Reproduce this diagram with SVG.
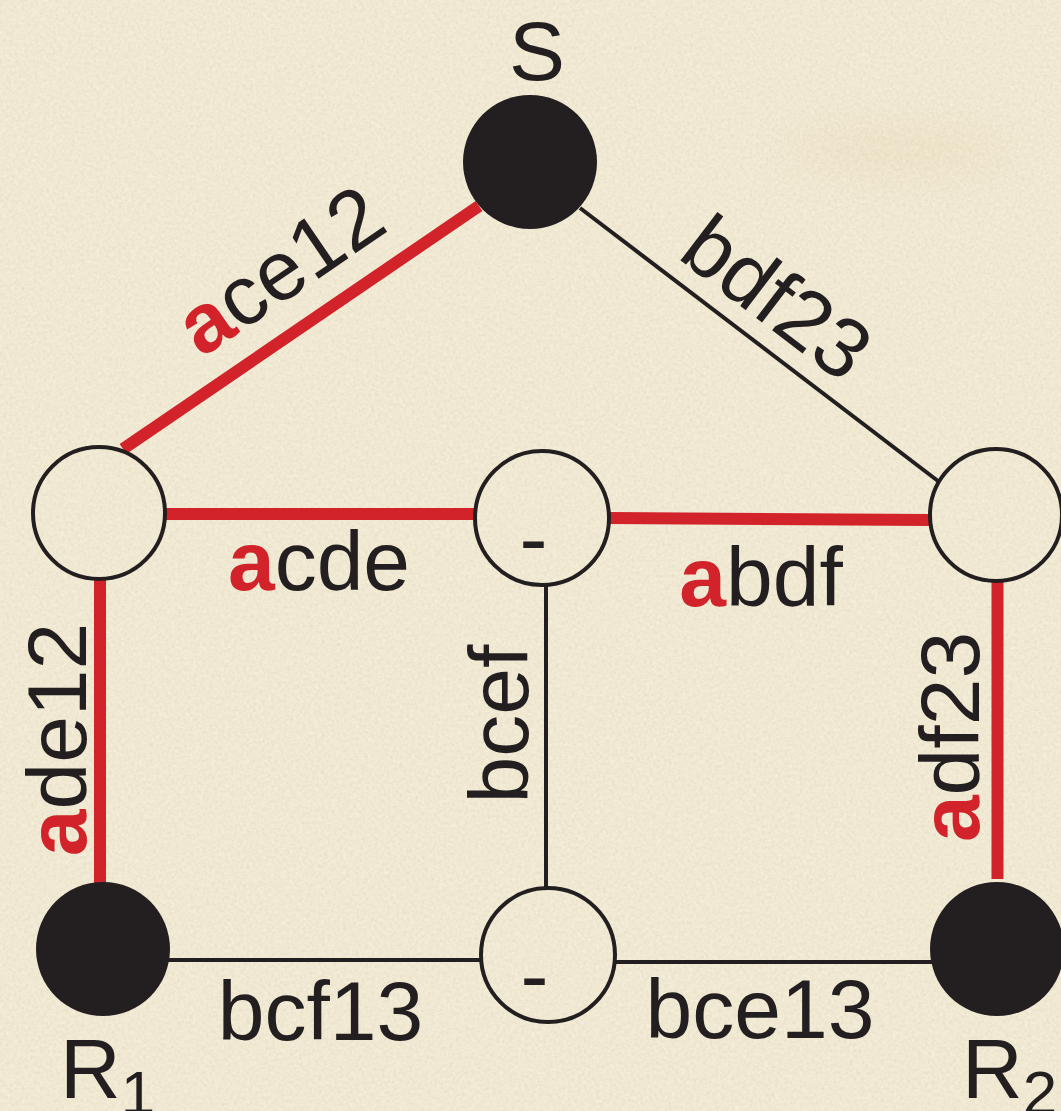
<svg xmlns="http://www.w3.org/2000/svg" width="1061" height="1111" viewBox="0 0 1061 1111">
  <defs>
    <filter id="paper" x="0" y="0" width="100%" height="100%">
      <feTurbulence type="fractalNoise" baseFrequency="0.32" numOctaves="3" seed="7" result="n"/>
      <feColorMatrix in="n" type="matrix" values="0 0 0 0 0.55  0 0 0 0 0.5  0 0 0 0 0.38  1.3 0 0 0 -0.55"/>
    </filter>
    <filter id="paperLight" x="0" y="0" width="100%" height="100%">
      <feTurbulence type="fractalNoise" baseFrequency="0.28" numOctaves="2" seed="19" result="n"/>
      <feColorMatrix in="n" type="matrix" values="0 0 0 0 1  0 0 0 0 0.99  0 0 0 0 0.94  1.3 0 0 0 -0.55"/>
    </filter>
    <filter id="blur" x="-100%" y="-200%" width="300%" height="500%"><feGaussianBlur stdDeviation="25"/></filter>
    <style>
      .lbl { font-family: "Liberation Sans", Arial, Helvetica, sans-serif; font-size: 84px; fill: #231f20; }
      .hi { font-weight: bold; fill: #d2232a; }
      .red { stroke: #d2232a; stroke-width: 12; fill: none; }
      .blk { stroke: #231f20; stroke-width: 4; fill: none; }
      .open { fill: none; stroke: #231f20; stroke-width: 4; }
      .filled { fill: #231f20; }
    </style>
  </defs>

  <!-- background paper -->
  <rect x="0" y="0" width="1061" height="1111" fill="#f1e9d2"/>
  <ellipse cx="900" cy="150" rx="120" ry="14" fill="#d9c090" opacity="0.3" filter="url(#blur)"/>
  <rect x="0" y="0" width="1061" height="1111" filter="url(#paperLight)" opacity="0.5"/>
  <rect x="0" y="0" width="1061" height="1111" filter="url(#paper)" opacity="0.35"/>

  <!-- connectors -->
  <g id="connectors">
    <line class="red" x1="123" y1="449" x2="479" y2="206"/>
    <line class="blk" x1="580" y1="208" x2="938" y2="481"/>
    <line class="red" x1="166" y1="514" x2="476" y2="514"/>
    <line class="red" x1="609" y1="518" x2="930" y2="520"/>
    <line class="red" x1="100" y1="580" x2="100" y2="885"/>
    <line class="blk" x1="546" y1="586" x2="546" y2="887"/>
    <line class="red" x1="997.5" y1="582" x2="997.5" y2="879"/>
    <line class="blk" x1="168" y1="960" x2="481" y2="960"/>
    <line class="blk" x1="616" y1="962" x2="932" y2="962"/>
  </g>

  <!-- nodes -->
  <g id="node-S">
    <circle class="filled" cx="530" cy="162" r="67"/>
    <text class="lbl" x="537" y="80" text-anchor="middle">S</text>
  </g>
  <g id="node-L">
    <circle class="open" cx="99" cy="513" r="66"/>
  </g>
  <g id="node-M">
    <circle class="open" cx="542" cy="518" r="67"/>
    <text class="lbl" x="533.5" y="567" text-anchor="middle" font-size="72">-</text>
  </g>
  <g id="node-R">
    <circle class="open" cx="996" cy="515" r="66"/>
  </g>
  <g id="node-R1">
    <circle class="filled" cx="103" cy="949" r="67"/>
    <text class="lbl" x="60" y="1098">R<tspan font-size="62" dy="16">1</tspan></text>
  </g>
  <g id="node-B">
    <circle class="open" cx="548" cy="955" r="67"/>
    <text class="lbl" x="534.6" y="1004" text-anchor="middle" font-size="72">-</text>
  </g>
  <g id="node-R2">
    <circle class="filled" cx="997" cy="949" r="67"/>
    <text class="lbl" x="962" y="1098">R<tspan font-size="62" dy="16">2</tspan></text>
  </g>

  <!-- edge labels -->
  <g id="edge-labels">
    <text class="lbl" x="296" y="294" text-anchor="middle" transform="rotate(-34.3 296 294)"><tspan class="hi">a</tspan>ce12</text>
    <text class="lbl" x="759.5" y="320.6" text-anchor="middle" transform="rotate(37.3 759.5 320.6)">bdf23</text>
    <text class="lbl" x="319" y="590" text-anchor="middle"><tspan class="hi">a</tspan>cde</text>
    <text class="lbl" x="761" y="606" text-anchor="middle"><tspan class="hi">a</tspan>bdf</text>
    <text class="lbl" x="85.7" y="739.5" text-anchor="middle" transform="rotate(-90 85.7 739.5)"><tspan class="hi">a</tspan>de12</text>
    <text class="lbl" x="528" y="724" text-anchor="middle" transform="rotate(-90 528 724)">bcef</text>
    <text class="lbl" x="979" y="737" text-anchor="middle" transform="rotate(-90 979 737)"><tspan class="hi">a</tspan>df23</text>
    <text class="lbl" x="320.5" y="1040" text-anchor="middle">bcf13</text>
    <text class="lbl" x="760" y="1038" text-anchor="middle">bce13</text>
  </g>
</svg>
